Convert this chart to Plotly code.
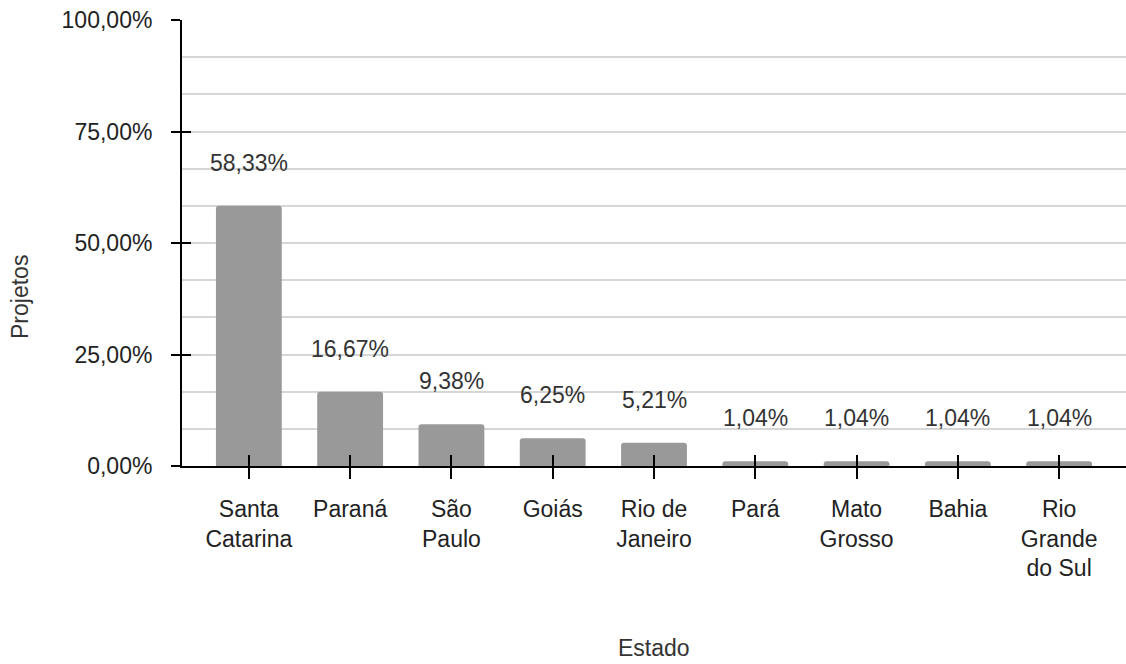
import plotly.graph_objects as go

estados = ["Santa<br>Catarina", "Paraná", "São<br>Paulo", "Goiás", "Rio de<br>Janeiro",
           "Pará", "Mato<br>Grosso", "Bahia", "Rio<br>Grande<br>do Sul"]
valores = [58.33, 16.67, 9.38, 6.25, 5.21, 1.04, 1.04, 1.04, 1.04]
rotulos = ["58,33%", "16,67%", "9,38%", "6,25%", "5,21%", "1,04%", "1,04%", "1,04%", "1,04%"]
y_ticks = [0, 25, 50, 75, 100]
y_tick_labels = ["0,00%", "25,00%", "50,00%", "75,00%", "100,00%"]

pos = list(range(len(estados)))
FONT = "Liberation Sans, Arial, sans-serif"
FS = 23
xr = [-0.66, len(estados) - 1 + 0.66]

fig = go.Figure()
fig.add_trace(go.Bar(x=pos, y=valores, width=0.65, marker=dict(color="#999999", line=dict(width=0)),
                     hoverinfo="skip"))
# invisible trace to anchor secondary axes (crossing tick marks)
fig.add_trace(go.Scatter(x=pos, y=valores, xaxis="x2", yaxis="y2", mode="markers",
                         marker=dict(opacity=0), hoverinfo="skip", showlegend=False))

for p, v, t in zip(pos, valores, rotulos):
    fig.add_annotation(x=p, y=v, text=t, showarrow=False, yshift=43,
                       font=dict(family=FONT, size=FS, color="#333333"))

fig.add_annotation(xref="paper", yref="paper", x=-0.1716, y=0.379, text="Projetos", textangle=-90,
                   xanchor="center", yanchor="middle",
                   showarrow=False, font=dict(family=FONT, size=FS, color="#333333"))
fig.add_annotation(xref="paper", yref="paper", x=0.5, y=-0.408, text="Estado",
                   xanchor="center", yanchor="middle",
                   showarrow=False, font=dict(family=FONT, size=FS, color="#333333"))

fig.update_layout(
    width=1126, height=664,
    margin=dict(l=182, r=0, t=20, b=198),
    plot_bgcolor="white", paper_bgcolor="white",
    showlegend=False,
    barcornerradius=3,
    font=dict(family=FONT, size=FS, color="#333333"),
    xaxis=dict(range=xr, tickvals=pos, ticktext=estados, showgrid=False, zeroline=False,
               showline=True, linecolor="black", linewidth=2,
               ticks="outside", ticklen=11, tickwidth=2, tickcolor="black",
               tickfont=dict(family=FONT, size=FS, color="#222222"), ticklabelstandoff=10),
    yaxis=dict(range=[0, 100], tickvals=y_ticks, ticktext=y_tick_labels, showgrid=True,
               gridcolor="#d6d6d6", gridwidth=1.5, zeroline=False,
               showline=True, linecolor="black", linewidth=2,
               ticks="outside", ticklen=9, tickwidth=2, tickcolor="black",
               tickfont=dict(family=FONT, size=FS, color="#222222"), ticklabelstandoff=14,
               minor=dict(dtick=25 / 3, tick0=0, showgrid=True, gridcolor="#d6d6d6", gridwidth=1.5)),
    xaxis2=dict(range=xr, overlaying="x", anchor="y2", tickvals=pos, showticklabels=False,
                ticks="inside", ticklen=11, tickwidth=2, tickcolor="black", showgrid=False,
                zeroline=False, showline=False),
    yaxis2=dict(range=[0, 100], overlaying="y", anchor="x2", tickvals=y_ticks, showticklabels=False,
                ticks="inside", ticklen=9, tickwidth=2, tickcolor="black", showgrid=False,
                zeroline=False, showline=False),
)

fig.write_html("out.html")
